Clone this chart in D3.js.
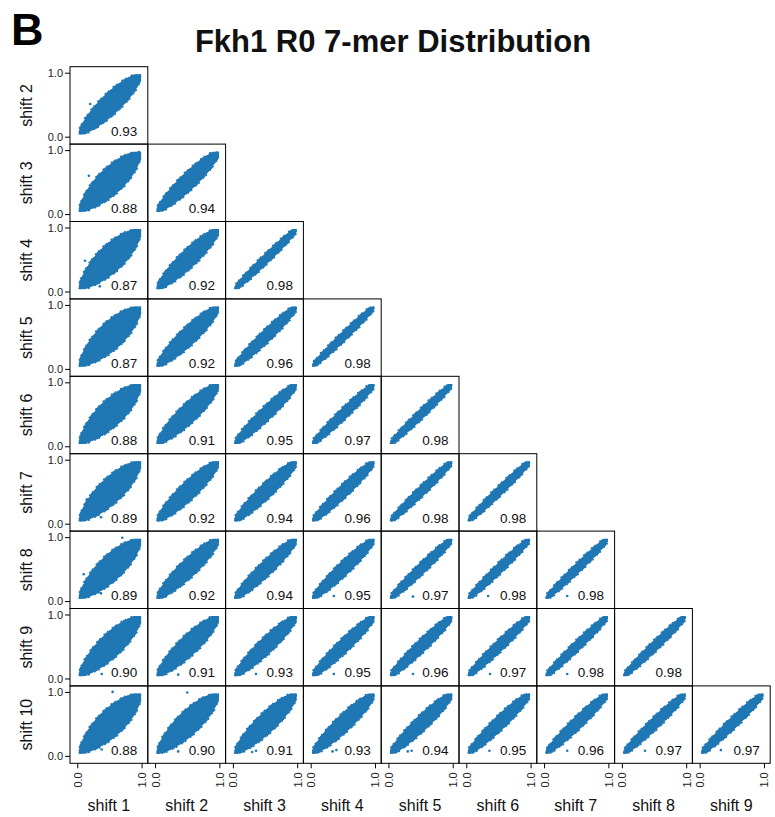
<!DOCTYPE html>
<html>
<head>
<meta charset="utf-8">
<script src="https://cdn.jsdelivr.net/npm/d3@7"></script>
<style>
  html, body { margin: 0; padding: 0; background: #fff; }
  svg { display: block; font-family: "Liberation Sans", Arial, Helvetica, sans-serif; }
</style>
</head>
<body>
<svg id="chart" width="775" height="817"></svg>
<script>
// ---------- data ----------
const rowLabels = ["shift 2","shift 3","shift 4","shift 5","shift 6","shift 7","shift 8","shift 9","shift 10"];
const colLabels = ["shift 1","shift 2","shift 3","shift 4","shift 5","shift 6","shift 7","shift 8","shift 9"];
const tickValues = [0.0, 1.0];
const tickLabels = ["0.0", "1.0"];

// Pearson correlation shown in each lower-triangle panel (row i = shift i+2, col j = shift j+1)
const corr = [
  [0.93],
  [0.88, 0.94],
  [0.87, 0.92, 0.98],
  [0.87, 0.92, 0.96, 0.98],
  [0.88, 0.91, 0.95, 0.97, 0.98],
  [0.89, 0.92, 0.94, 0.96, 0.98, 0.98],
  [0.89, 0.92, 0.94, 0.95, 0.97, 0.98, 0.98],
  [0.90, 0.91, 0.93, 0.95, 0.96, 0.97, 0.98, 0.98],
  [0.88, 0.90, 0.91, 0.93, 0.94, 0.95, 0.96, 0.97, 0.97]
];

// widest half-thickness of each point cloud, perpendicular to the diagonal (data units)
const spread = [
  [0.14],
  [0.185, 0.11],
  [0.19, 0.12, 0.05],
  [0.19, 0.12, 0.075, 0.048],
  [0.185, 0.13, 0.085, 0.062, 0.05],
  [0.175, 0.12, 0.095, 0.075, 0.055, 0.05],
  [0.175, 0.12, 0.095, 0.085, 0.062, 0.055, 0.05],
  [0.165, 0.135, 0.105, 0.085, 0.075, 0.065, 0.055, 0.055],
  [0.19, 0.165, 0.135, 0.11, 0.095, 0.085, 0.075, 0.068, 0.065]
];

// cloud axis: lower-left start and upper-right end (data units); data saturate near these bounds
const cloudStart = [0.035, 0.045];
const cloudEnd = [0.98, 0.965];
const dataMin = [0.02, 0.035];
const dataMax = [0.995, 0.975];

// a few isolated points visible outside the dense clouds [row, col, x, y]
const outliers = [
  [0,0,0.20,0.51],[0,0,0.30,0.15],[0,0,0.97,0.96],
  [1,0,0.18,0.60],[1,0,0.96,0.97],[1,1,0.96,0.96],
  [2,0,0.35,0.08],[2,0,0.12,0.48],
  [5,0,0.15,0.38],[5,0,0.37,0.10],
  [6,0,0.37,0.12],[6,0,0.70,0.99],[6,0,0.10,0.42],[6,3,0.36,0.08],[6,4,0.38,0.07],[6,5,0.34,0.08],[6,6,0.36,0.08],
  [7,0,0.38,0.07],[7,1,0.36,0.06],[7,2,0.36,0.07],[7,3,0.36,0.07],[7,4,0.38,0.07],[7,5,0.37,0.07],[7,6,0.36,0.07],
  [8,0,0.38,0.10],[8,0,0.55,1.00],[8,1,0.36,0.07],[8,1,0.50,0.99],[8,2,0.36,0.08],[8,2,0.30,0.06],[8,3,0.40,0.09],[8,3,0.34,0.07],
  [8,4,0.36,0.08],[8,4,0.30,0.07],[8,5,0.36,0.08],[8,6,0.36,0.08],[8,7,0.36,0.08],[8,8,0.33,0.09]
];

// ---------- layout ----------
const svg = d3.select("#chart");
const blue = "#1f77b4";
const gridLeft = 70, gridTop = 66.7, cellW = 77.8, cellH = 77.4;
const xDomain = [-0.113, 1.097], yDomain = [-0.116, 1.094];
const nRows = rowLabels.length;

svg.append("text").attr("x", 11).attr("y", 45).attr("font-size", 45).attr("font-weight", "bold")
  .attr("fill", "#000").text("B");
svg.append("text").attr("x", 393).attr("y", 52).attr("text-anchor", "middle")
  .attr("font-size", 31).attr("font-weight", "bold").attr("fill", "#111")
  .text("Fkh1 R0 7-mer Distribution");

const defs = svg.append("defs");

// outline of a dense cloud: lens-shaped for broad clouds, band-like for tight ones (data units)
function cloudOutline(s) {
  const [x0, y0] = cloudStart, [x1, y1] = cloudEnd;
  const dx = x1 - x0, dy = y1 - y0, L = Math.hypot(dx, dy);
  const ux = dx / L, uy = dy / L, nx = -uy, ny = ux;
  const p = Math.max(0.4, Math.min(0.75, 0.3 + 2.5 * s));
  const width = t => { const tau = Math.pow(t, 1.08); return s * Math.pow(Math.max(0, 1 - (2 * tau - 1) ** 2), p); };
  const ts = d3.range(0, 1.0001, 0.0125);
  const upper = ts.map(t => [x0 + dx * t + nx * width(t), y0 + dy * t + ny * width(t)]);
  const lower = ts.map(t => [x0 + dx * t - nx * width(t), y0 + dy * t - ny * width(t)]).reverse();
  return { pts: upper.concat(lower), nx, ny, n: ts.length };
}
// fixed speckle offsets for the ragged edge of the clouds
const edgeJitter = [0.004, 0.016, 0.0, 0.01, 0.022, 0.006, 0.013, 0.0, 0.018, 0.008];

for (let i = 0; i < nRows; i++) {
  for (let j = 0; j <= i; j++) {
    const left = gridLeft + j * cellW, top = gridTop + i * cellH;
    const x = d3.scaleLinear().domain(xDomain).range([left, left + cellW]);
    const y = d3.scaleLinear().domain(yDomain).range([top + cellH, top]);
    const g = svg.append("g");
    const clipId = `clip-${i}-${j}`;
    defs.append("clipPath").attr("id", clipId).append("rect")
      .attr("x", x(dataMin[0])).attr("y", y(dataMax[1]))
      .attr("width", x(dataMax[0]) - x(dataMin[0])).attr("height", y(dataMin[1]) - y(dataMax[1]));

    const o = cloudOutline(spread[i][j]);
    const line = d3.line().x(d => x(d[0])).y(d => y(d[1])).curve(d3.curveCatmullRomClosed);
    const cg = g.append("g").attr("clip-path", `url(#${clipId})`);
    cg.append("path").attr("d", line(o.pts)).attr("fill", blue).attr("stroke", blue)
      .attr("stroke-width", 2).attr("stroke-linejoin", "round");
    const speck = o.pts.map((p, k) => {
      const side = k < o.n ? 1 : -1;
      const off = edgeJitter[k % edgeJitter.length];
      return [p[0] + side * o.nx * off, p[1] + side * o.ny * off];
    }).filter((p, k) => k % 2 === 0);
    cg.selectAll("circle.sp").data(speck).join("circle")
      .attr("cx", d => x(d[0])).attr("cy", d => y(d[1])).attr("r", 1.2).attr("fill", blue);

    g.selectAll("circle.out").data(outliers.filter(d => d[0] === i && d[1] === j)).join("circle")
      .attr("cx", d => x(d[2])).attr("cy", d => y(d[3])).attr("r", 1.3).attr("fill", blue);

    g.append("text").attr("x", left + cellW - 10.5).attr("y", top + cellH - 8.5)
      .attr("text-anchor", "end").attr("font-size", 13.5).attr("fill", "#111")
      .text(d3.format(".2f")(corr[i][j]));

    g.append("rect").attr("x", left).attr("y", top).attr("width", cellW).attr("height", cellH)
      .attr("fill", "none").attr("stroke", "#000").attr("stroke-width", 1);

    if (j === 0) {
      const ax = d3.axisLeft(y).tickValues(tickValues).tickFormat((d, k) => tickLabels[k]).tickSize(5).tickPadding(2);
      const ag = svg.append("g").attr("transform", `translate(${left},0)`).call(ax);
      ag.select(".domain").remove();
      ag.selectAll("text").attr("font-size", 11).attr("fill", "#222").attr("font-family", "Liberation Sans, Arial, sans-serif");
      ag.selectAll("line").attr("stroke", "#000");
      svg.append("text")
        .attr("transform", `translate(${32},${top + cellH / 2}) rotate(-90)`)
        .attr("text-anchor", "middle").attr("font-size", 16).attr("fill", "#111")
        .text(rowLabels[i]);
    }
    if (i === nRows - 1) {
      const ax = d3.axisBottom(x).tickValues(tickValues).tickFormat((d, k) => tickLabels[k]).tickSize(5);
      const ag = svg.append("g").attr("transform", `translate(0,${top + cellH})`).call(ax);
      ag.select(".domain").remove();
      ag.selectAll("line").attr("stroke", "#000");
      ag.selectAll("text")
        .attr("font-size", 11).attr("fill", "#222").attr("font-family", "Liberation Sans, Arial, sans-serif")
        .attr("text-anchor", "end").attr("dy", null).attr("y", 0).attr("x", -9)
        .attr("transform", "rotate(-90)").attr("dominant-baseline", "central");
      svg.append("text").attr("x", left + cellW / 2).attr("y", 811)
        .attr("text-anchor", "middle").attr("font-size", 16).attr("fill", "#111")
        .text(colLabels[j]);
    }
  }
}
</script>
</body>
</html>
